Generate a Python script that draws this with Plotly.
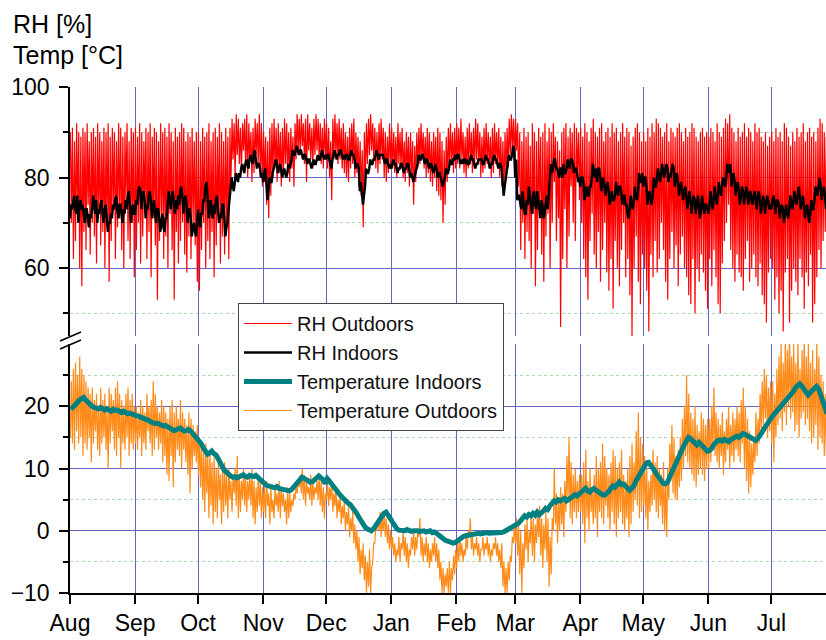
import pandas as pd
import plotly.graph_objects as go

# ---------------- data ----------------
start_date = "2012-08-01"
end_date = "2013-07-27"
month_ticks = ["2012-08-01", "2012-09-01", "2012-10-01", "2012-11-01", "2012-12-01", "2013-01-01",
               "2013-02-01", "2013-03-01", "2013-04-01", "2013-05-01", "2013-06-01", "2013-07-01"]
month_labels = ["Aug", "Sep", "Oct", "Nov", "Dec", "Jan", "Feb", "Mar", "Apr", "May", "Jun", "Jul"]

# RH outdoors: daily maximum / minimum [%]
rh_out_max = [
    90,91,88,92,90,89,91,90,92,88,90,91,89,92,90,88,91,90,92,89,91,90,88,92,91,89,90,92,88,91,90,  # Aug
    91,89,92,90,88,91,90,92,89,91,90,88,92,90,91,89,92,90,88,91,89,90,92,91,88,90,89,91,88,90,     # Sep
    90,88,91,89,90,92,88,90,91,89,92,90,88,91,89,91,93,92,94,93,91,92,93,94,92,90,91,93,92,94,92,  # Oct
    90,89,88,91,92,93,91,92,90,91,93,92,90,91,89,92,94,93,94,92,93,94,92,91,93,94,93,92,91,93,     # Nov
    92,91,88,93,94,92,93,91,92,90,89,91,92,93,90,89,88,86,90,92,93,94,92,91,90,92,93,91,90,89,92,  # Dec
    91,90,89,92,90,91,88,90,89,90,88,87,90,91,92,90,89,91,90,88,90,89,91,90,88,86,89,91,92,90,91,  # Jan
    92,91,93,90,89,91,92,90,91,93,92,90,89,91,92,90,89,91,92,90,91,89,88,90,91,93,94,93,           # Feb
    93,92,90,88,91,89,90,87,92,90,88,91,89,90,92,88,91,90,92,89,88,86,90,91,92,89,91,90,92,91,90,  # Mar
    91,89,92,90,88,91,93,90,89,91,92,88,90,91,89,92,90,91,88,90,92,89,91,90,87,89,91,92,90,88,     # Apr
    90,88,91,89,92,90,93,92,91,89,90,92,88,91,90,89,91,92,90,88,91,89,90,92,91,89,88,90,91,89,90,  # May
    89,91,90,88,92,90,89,91,93,92,94,91,90,88,91,89,90,92,89,91,90,88,92,90,91,89,88,90,87,89,     # Jun
    90,88,91,89,90,88,92,91,89,87,90,88,91,89,90,92,88,90,91,89,90,88,91,93,92,90,89,             # Jul
]
rh_out_min = [
    70,62,66,72,60,56,68,64,74,63,70,67,61,72,65,68,60,70,57,66,73,62,69,71,64,60,75,66,62,70,58,  # Aug
    64,70,61,67,73,62,68,58,71,65,53,66,70,62,67,60,72,64,53,68,61,66,70,63,59,67,62,70,65,57,     # Sep
    55,64,70,60,66,62,68,58,65,70,61,67,63,69,62,78,84,80,85,83,81,86,82,80,84,79,81,85,83,80,78,  # Oct
    79,74,71,76,80,82,79,81,78,80,83,81,79,82,78,84,86,85,87,83,79,86,84,82,85,86,84,83,82,85,     # Nov
    82,80,75,84,85,83,84,82,81,80,79,82,83,80,81,78,76,69,80,83,85,86,84,82,81,83,84,80,79,81,82,  # Dec
    82,81,80,83,82,80,79,81,78,80,74,79,82,83,84,82,80,81,79,78,80,77,76,75,70,74,79,82,83,81,82,  # Jan
    83,82,84,81,80,82,83,81,82,84,83,80,81,82,83,82,80,81,83,82,80,78,76,80,82,85,86,84,           # Feb
    86,78,64,70,62,68,66,60,72,56,64,74,63,57,67,72,60,70,79,66,71,47,62,73,60,67,78,70,66,80,75,  # Mar
    70,62,58,53,66,72,63,60,68,57,64,70,59,55,62,51,66,60,56,64,70,58,62,54,45,60,67,57,52,63,     # Apr
    60,55,46,63,58,66,59,62,70,64,57,53,62,68,60,65,56,63,67,60,58,54,52,62,50,60,57,63,59,55,51,  # May
    62,56,64,58,52,50,61,66,70,74,64,60,57,63,59,58,55,62,66,57,60,63,58,56,61,54,52,48,59,62,     # Jun
    60,53,58,50,55,46,59,62,48,55,60,57,54,62,58,51,59,56,63,48,52,58,64,60,66,68,62,             # Jul
]
# RH indoors: two readings per day (night, midday) [%]
rh_in_night = [
    71,73,76,72,70,75,74,70,73,69,71,76,72,70,72,75,70,74,68,70,71,73,76,71,74,70,72,73,77,70,74,  # Aug
    72,74,78,73,77,71,73,77,71,75,70,73,68,72,68,71,77,73,77,72,73,74,78,72,76,70,73,67,70,67,     # Sep
    73,69,72,75,79,71,75,71,72,76,70,71,74,67,70,75,80,77,81,79,80,83,81,84,82,85,83,86,82,83,80,  # Oct
    79,82,75,80,79,82,84,81,83,80,82,80,83,83,86,85,87,85,86,84,85,83,84,82,84,83,85,84,86,84,     # Nov
    84,85,83,84,86,84,85,86,84,84,85,84,86,85,82,83,77,76,76,82,81,84,83,84,86,84,85,85,83,84,82,  # Dec
    82,84,83,81,82,83,81,82,83,80,80,80,82,85,84,85,83,84,82,83,81,83,80,81,79,79,82,81,84,83,84,  # Jan
    84,85,83,83,84,84,83,85,84,82,83,84,84,83,85,84,82,83,85,84,82,83,78,78,82,85,84,87,           # Feb
    80,75,76,73,75,72,74,76,72,77,73,75,71,74,72,76,76,83,82,84,82,80,82,83,81,84,82,84,81,82,79,  # Mar
    78,80,75,78,76,78,83,80,79,82,77,80,76,79,74,77,75,79,76,78,74,76,74,71,76,73,78,75,81,79,     # Apr
    78,80,74,77,74,80,78,82,79,83,80,83,79,80,83,78,81,76,79,75,78,73,77,72,76,72,76,71,76,72,74,  # May
    72,77,73,78,74,79,76,80,78,83,81,78,81,76,79,74,78,74,78,74,77,74,77,73,77,72,76,72,76,73,     # Jun
    73,76,72,75,71,74,70,74,71,76,73,77,74,78,73,76,71,74,70,75,73,78,76,80,75,78,73,             # Jul
]
rh_in_day = [
    74,75,73,76,74,73,72,73,71,72,73,74,75,73,74,72,73,71,70,72,74,75,73,74,72,73,75,76,74,73,72,  # Aug
    75,77,77,76,75,74,76,75,74,72,73,71,70,69,71,74,75,76,74,75,76,77,76,75,74,73,71,69,68,70,     # Sep
    70,72,75,78,76,73,72,74,75,73,72,74,71,69,73,77,78,79,80,81,82,82,83,83,84,84,85,84,83,82,81,  # Oct
    81,79,77,79,81,83,83,82,82,81,81,81,82,84,85,86,86,86,85,85,84,84,83,83,83,84,84,85,85,85,     # Nov
    85,84,82,85,85,85,86,85,85,85,84,85,85,84,83,82,79,74,78,81,82,83,84,85,85,85,85,84,84,83,83,  # Dec
    83,83,82,82,83,82,82,83,82,81,79,81,83,84,85,84,84,83,83,82,82,82,81,80,78,80,81,82,83,84,85,  # Jan
    85,84,84,84,83,83,84,84,83,83,84,84,83,84,84,83,83,84,84,83,83,82,76,80,83,84,85,86,           # Feb
    84,76,74,77,72,75,78,73,76,74,77,72,75,71,74,73,78,81,84,82,81,82,80,81,82,83,84,83,82,81,80,  # Mar
    80,79,77,76,78,80,81,82,82,80,79,78,78,77,76,75,76,77,78,77,76,74,72,73,74,75,76,77,79,81,     # Apr
    80,78,76,75,76,78,80,80,81,81,82,82,81,82,82,80,79,78,77,77,76,75,75,74,75,74,74,73,74,74,73,  # May
    74,75,75,76,76,77,78,79,80,82,83,80,79,78,77,76,77,76,77,76,75,76,75,76,75,74,75,74,75,74,     # Jun
    75,74,75,74,73,73,72,72,73,74,75,75,76,76,75,74,73,72,72,73,75,77,78,78,77,76,75,             # Jul
]
# Temperature indoors: daily value [°C]
temp_in = [
    19.5,19.8,20.2,20.6,21.0,21.2,21.4,21.0,20.6,20.3,20.0,19.8,19.6,19.6,19.8,19.5,19.4,19.6,19.3,19.2,
    19.5,19.3,19.4,19.1,19.0,19.2,18.9,18.8,18.9,18.7,18.6,                                              # Aug
    18.5,18.4,18.3,18.1,18.0,17.8,17.7,17.5,17.3,17.2,17.3,17.1,16.9,16.8,16.9,16.7,16.5,16.4,16.1,16.2,
    16.3,16.5,16.2,16.0,16.1,16.3,16.0,15.6,15.2,14.8,                                                   # Sep
    14.5,14.0,13.3,12.6,12.3,12.5,12.8,12.4,12.2,11.6,10.8,10.2,9.7,9.4,9.0,8.8,8.6,8.7,8.5,8.6,
    8.8,9.0,8.7,8.6,8.9,8.8,8.7,8.9,8.6,8.2,7.8,                                                         # Oct
    7.5,7.3,7.2,7.0,7.0,6.9,7.1,6.8,6.7,6.6,6.5,6.6,6.4,6.6,7.0,7.5,8.0,8.5,8.6,8.4,
    8.2,8.0,7.8,7.9,8.3,8.6,8.8,8.5,8.2,7.6,                                                             # Nov
    8.4,8.0,7.5,7.0,6.6,6.2,5.8,5.4,5.0,4.7,4.4,4.2,3.8,3.3,2.8,2.2,1.6,1.0,0.6,0.3,
    0.1,0.0,0.3,0.8,1.4,2.0,2.4,2.8,3.0,2.6,2.0,                                                         # Dec
    1.4,0.8,0.4,0.1,0.0,0.1,0.0,0.2,0.0,-0.1,0.0,0.1,0.0,-0.1,0.0,0.0,-0.2,-0.1,0.0,-0.3,
    -0.2,-0.4,-0.6,-0.9,-1.2,-1.5,-1.6,-1.8,-2.0,-2.0,-1.9,                                              # Jan
    -1.6,-1.3,-1.0,-0.9,-0.8,-0.7,-0.6,-0.5,-0.5,-0.4,-0.4,-0.5,-0.4,-0.4,-0.3,-0.4,-0.4,-0.5,-0.4,-0.3,
    -0.4,-0.3,-0.2,0.0,0.2,0.4,0.6,0.8,                                                                  # Feb
    0.8,1.2,1.6,2.0,2.4,2.2,2.6,2.4,2.8,2.5,3.0,2.6,2.8,3.2,3.6,3.4,4.0,4.4,4.8,4.6,
    5.0,4.8,4.9,5.2,4.8,5.0,5.4,5.6,5.8,5.6,5.9,                                                         # Mar
    6.2,6.5,6.8,6.4,6.2,6.6,6.8,6.5,6.2,6.0,5.8,5.7,5.9,6.3,6.8,7.2,7.0,7.5,7.8,7.4,
    7.5,7.2,6.8,6.5,6.8,7.2,8.0,8.6,9.2,10.0,                                                            # Apr
    10.5,10.9,11.0,10.6,10.2,9.6,9.0,8.4,7.9,7.6,7.5,7.8,8.6,9.4,10.2,11.0,11.8,12.4,13.0,13.8,
    14.4,15.0,14.8,14.4,14.0,13.8,14.2,13.8,13.4,13.0,12.8,                                              # May
    12.9,13.2,13.8,14.2,14.5,14.6,14.4,14.7,14.5,14.3,14.6,14.8,15.0,15.2,15.0,15.4,15.6,15.5,15.3,15.0,
    14.8,14.6,14.5,14.8,15.2,15.8,16.4,17.0,17.4,18.0,                                                   # Jun
    18.4,18.8,19.2,19.6,20.0,20.4,20.8,21.2,21.4,21.8,22.4,23.0,23.4,23.6,23.2,22.6,22.0,21.8,22.2,22.6,
    23.0,23.2,22.8,21.8,20.6,19.6,18.8,                                                                  # Jul
]
# Temperature outdoors: daily maximum / minimum [°C]
temp_out_max = [
    24,26,27,25,28,26,25,24,23,22,23,21,22,20,23,21,22,20,23,22,21,23,24,22,21,20,22,23,21,22,20,  # Aug
    20,19,21,20,19,22,20,21,24,22,20,19,21,20,19,18,20,21,19,20,18,21,19,18,17,19,18,17,16,17,     # Sep
    15,14,13,14,12,13,11,12,10,11,9,10,11,9,10,8,9,10,12,9,8,10,9,8,9,10,8,7,9,8,7,                # Oct
    7,8,6,7,5,7,6,8,7,6,5,7,6,5,6,7,8,9,10,9,8,7,9,8,7,8,9,8,7,6,                                  # Nov
    8,7,8,6,7,5,6,4,5,3,4,2,3,1,0,-1,-3,-2,-4,-5,-3,-6,-2,1,2,3,2,3,2,1,0,                         # Dec
    -1,-2,-3,-1,-2,0,-1,-2,-3,-1,0,-1,0,2,-1,-2,-1,-2,-3,-2,-1,-2,-3,-5,-6,-7,-6,-5,-6,-4,-3,      # Jan
    -2,-1,-2,-3,-1,0,2,-1,-2,-1,-2,-3,-1,-2,-1,-2,-3,-2,-1,-2,-3,-2,-5,-6,-5,-4,-1,1,              # Feb
    2,1,0,-2,1,2,0,3,2,1,3,4,2,1,3,2,-1,2,10,6,5,7,6,8,12,15,11,9,10,8,9,                          # Mar
    9,11,13,8,10,7,9,12,10,11,14,12,10,9,11,13,12,10,11,13,9,8,10,12,14,11,16,19,15,14,            # Apr
    12,10,8,9,13,11,12,10,9,11,8,10,14,17,15,12,13,15,18,20,25,22,19,18,20,17,16,19,18,17,18,      # May
    18,20,23,19,18,17,19,16,18,20,17,19,18,20,19,21,23,20,18,16,14,15,19,18,22,24,26,25,23,24,     # Jun
    24,22,26,28,30,27,31,29,32,28,30,27,31,26,29,31,28,30,27,29,26,31,28,25,24,22,21,             # Jul
]
temp_out_min = [
    15,14,13,16,14,15,12,14,13,15,11,14,16,13,12,14,15,13,10,14,16,13,12,15,10,14,13,15,12,14,13,  # Aug
    14,13,15,12,14,13,16,14,12,13,15,13,14,11,12,9,8,12,7,11,13,12,10,13,11,9,6,10,12,11,          # Sep
    9,7,5,3,6,2,4,1,3,2,5,1,3,4,2,5,3,6,4,2,3,5,4,3,5,4,2,1,3,4,2,                                 # Oct
    3,2,4,1,3,2,4,3,2,4,3,1,2,3,4,5,6,7,6,5,4,6,5,4,5,6,5,4,3,2,                                   # Nov
    5,4,5,3,4,2,3,1,2,0,1,-1,0,-2,-3,-5,-7,-6,-8,-10,-9,-10,-5,-2,0,0,-1,0,-1,-2,-3,               # Dec
    -3,-4,-5,-4,-5,-3,-4,-5,-6,-4,-3,-4,-3,-1,-4,-5,-4,-5,-6,-5,-4,-5,-6,-8,-10,-10,-9,-10,-10,-8,-7,  # Jan
    -6,-5,-4,-5,-4,-3,-1,-3,-4,-3,-4,-5,-3,-4,-3,-4,-5,-4,-3,-4,-5,-6,-9,-10,-10,-8,-5,-2,         # Feb
    -2,-4,-7,-10,-6,-3,-5,-2,-4,-5,-2,-1,-4,-6,-3,-5,-9,-7,0,1,-2,0,1,-1,3,5,2,1,3,2,3,            # Mar
    3,1,-2,2,0,3,1,2,-1,3,2,1,4,2,0,3,1,-1,2,3,1,0,2,-1,1,3,5,4,2,3,                               # Apr
    4,2,0,3,4,5,3,2,4,1,0,-1,5,8,6,5,5,7,8,10,12,11,10,9,8,7,9,10,9,8,10,                          # May
    10,11,13,12,11,10,12,9,11,13,10,12,11,13,12,11,14,10,8,6,7,9,11,12,14,16,17,18,15,16,          # Jun
    14,11,15,17,18,16,19,17,20,18,19,16,17,15,18,19,17,18,16,14,15,17,13,15,14,12,12,             # Jul
]

# ---------------- build time axes ----------------
def daily(n):
    return pd.date_range(start_date, periods=n, freq="D")

def two_per_day(first, second, h1, h2):
    xs, ys = [], []
    for d, a, b in zip(daily(len(first)), first, second):
        xs += [d + pd.Timedelta(hours=h1), d + pd.Timedelta(hours=h2)]
        ys += [a, b]
    return xs, ys

x_rh_out, y_rh_out = two_per_day(rh_out_max, rh_out_min, 4, 15)
x_rh_in, y_rh_in = two_per_day(rh_in_night, rh_in_day, 0, 12)
x_t_out, y_t_out = two_per_day(temp_out_min, temp_out_max, 4, 15)
x_t_in = daily(len(temp_in)) + pd.Timedelta(hours=12)

# ---------------- figure ----------------
W, H = 826, 640
ML, MR, MT, MB = 70, 0, 87, 47
PW, PH = W - ML - MR, H - MT - MB

def px(xp):
    return (xp - ML) / PW

def py(yp):
    return (H - MB - yp) / PH

FONT = "Liberation Sans, Arial, sans-serif"
GRID = "#6464c4"
MINOR_GRID = "#a9dca9"

fig = go.Figure()
fig.add_trace(go.Scatter(x=x_rh_out, y=y_rh_out, mode="lines", name="RH Outdoors",
                         line=dict(color="#ff0000", width=1.2), xaxis="x2", yaxis="y2", legendrank=1))
fig.add_trace(go.Scatter(x=x_rh_in, y=y_rh_in, mode="lines", name="RH Indoors",
                         line=dict(color="#000000", width=2.4), xaxis="x2", yaxis="y2", legendrank=2))
fig.add_trace(go.Scatter(x=x_t_out, y=y_t_out, mode="lines", name="Temperature Outdoors",
                         line=dict(color="#ff8c1a", width=1.2), xaxis="x", yaxis="y", legendrank=4))
fig.add_trace(go.Scatter(x=x_t_in, y=temp_in, mode="lines", name="Temperature Indoors",
                         line=dict(color="#008080", width=5), xaxis="x", yaxis="y", legendrank=3))

axis_font = dict(family=FONT, size=23, color="black")
fig.update_layout(
    width=W, height=H, autosize=False,
    margin=dict(l=ML, r=MR, t=MT, b=MB, pad=0),
    paper_bgcolor="white", plot_bgcolor="white",
    font=dict(family=FONT, color="black"),
    showlegend=True,
    legend=dict(x=px(238), y=py(303), xanchor="left", yanchor="top",
                bgcolor="white", bordercolor="#444", borderwidth=1, itemwidth=48,
                font=dict(family=FONT, size=20, color="#111"), tracegroupgap=0),
    xaxis=dict(type="date", range=[start_date, end_date], anchor="y", domain=[0, 1],
               tickvals=month_ticks, ticktext=month_labels, tickfont=axis_font,
               ticks="outside", ticklen=9, tickwidth=1.5, tickcolor="black",
               showline=True, linecolor="black", linewidth=1.5,
               showgrid=True, gridcolor=GRID, gridwidth=1, zeroline=False),
    xaxis2=dict(type="date", matches="x", anchor="y2", domain=[0, 1],
                tickvals=month_ticks, showticklabels=False, ticks="",
                showline=False, showgrid=True, gridcolor=GRID, gridwidth=1, zeroline=False),
    yaxis=dict(domain=[0, py(344)], range=[-10, 30], anchor="x",
               tickvals=[-10, 0, 10, 20], tickfont=axis_font,
               ticks="outside", ticklen=9, tickwidth=1.5, tickcolor="black", ticklabelstandoff=5,
               showline=True, linecolor="black", linewidth=1.5,
               showgrid=True, gridcolor=GRID, gridwidth=1, zeroline=False,
               minor=dict(tickvals=[-5, 5, 15, 25], ticks="outside", ticklen=5, tickwidth=1.5,
                          tickcolor="black", showgrid=True, gridcolor=MINOR_GRID,
                          griddash="dot", gridwidth=1)),
    yaxis2=dict(domain=[py(336), 1], range=[45, 100], anchor="x2",
                tickvals=[60, 80, 100], tickfont=axis_font,
                ticks="outside", ticklen=9, tickwidth=1.5, tickcolor="black", ticklabelstandoff=5,
                showline=True, linecolor="black", linewidth=1.5,
                showgrid=True, gridcolor=GRID, gridwidth=1, zeroline=False,
                minor=dict(tickvals=[50, 70, 90], ticks="outside", ticklen=5, tickwidth=1.5,
                           tickcolor="black", showgrid=True, gridcolor=MINOR_GRID,
                           griddash="dot", gridwidth=1)),
)

# axis titles (stacked, top-left)
for txt, yc in [("RH [%]", 24), ("Temp [°C]", 55)]:
    fig.add_annotation(text=txt, xref="paper", yref="paper", x=px(11), y=py(yc),
                       xanchor="left", yanchor="middle", showarrow=False,
                       font=dict(family=FONT, size=25, color="black"))

# axis-break marks "//"
for y0, y1 in [(341, 332), (349, 340)]:
    fig.add_shape(type="line", xref="paper", yref="paper",
                  x0=px(60), y0=py(y0), x1=px(81), y1=py(y1),
                  line=dict(color="black", width=1.5))

fig.write_html("out.html")
